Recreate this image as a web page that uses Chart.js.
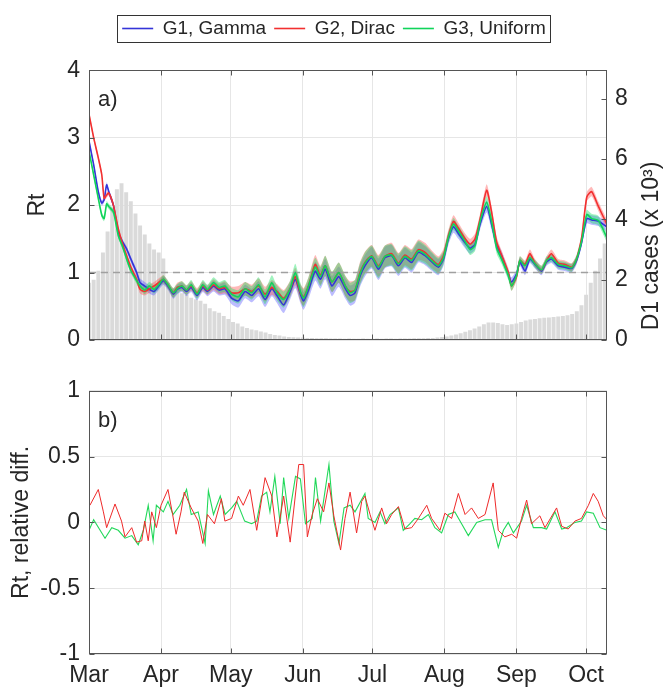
<!DOCTYPE html>
<html>
<head>
<meta charset="utf-8">
<script src="https://cdn.jsdelivr.net/npm/chart.js@4.4.1/dist/chart.umd.min.js"></script>
<style>
html,body{margin:0;padding:0;background:#fff;}
#wrap{position:relative;width:668px;height:689px;overflow:hidden;}
#c1{position:absolute;left:0;top:0;width:668px;height:368px;}
#c2{position:absolute;left:0;top:368px;width:668px;height:321px;}
</style>
</head>
<body>
<div id="wrap">
<canvas id="c1" width="668" height="368"></canvas>
<canvas id="c2" width="668" height="321"></canvas>
</div>
<script>
// ---------------- DATA ----------------
// x values are days since 1 March
const monthTickDays = [0, 31, 61, 92, 122, 153, 184, 214];
const monthLabels = ['Mar', 'Apr', 'May', 'Jun', 'Jul', 'Aug', 'Sep', 'Oct'];
const dayRange = [0, 223];
const rtTicks = [0, 1, 2, 3, 4];
const casesTicks = [0, 2, 4, 6, 8];
const diffTicks = [-1, -0.5, 0, 0.5, 1];

const seriesLabels = ['G1, Gamma', 'G2, Dirac', 'G3, Uniform'];
const casesTitle = 'D1 cases (x 10³)';

// Panel a) : Rt estimates
const rtDays = [0,2,4,5.5,6.5,7.6,8.5,10.5,12.6,14.5,16.2,18,20.5,22,24,26,28,30,32,34,36.3,38,40,42,44,46.5,49,51,53.6,56,58.5,61.4,64.3,67.2,70.1,73,75.8,78.7,80.9,83.8,86.6,88.8,91,92.4,94.5,97.4,99.6,101.7,104.6,107.5,110.4,112.4,114.5,116.7,118.8,121.7,124.6,127.4,130.3,133.2,136,138.9,141.8,144.7,147.5,150.4,152.6,154.7,156.9,159,161.9,164.1,166.2,168.4,171.2,173.3,175.5,177.6,180.5,181.9,184.1,185.5,187.7,189.8,192,194.8,197,199.1,202,204.9,207.8,209.9,212.1,214.3,216.4,219.3,222.9];
const g1Rt = [2.95,2.6,2.2,2.03,2.08,2.3,2.2,2.0,1.6,1.45,1.35,1.2,1.0,0.85,0.8,0.75,0.72,0.8,0.88,0.8,0.68,0.75,0.78,0.72,0.78,0.66,0.78,0.72,0.8,0.74,0.76,0.62,0.58,0.72,0.66,0.76,0.6,0.76,0.66,0.52,0.72,0.9,0.68,0.58,0.74,1.02,0.9,1.05,0.8,0.94,0.76,0.66,0.7,0.95,1.1,1.22,1.05,1.22,1.25,1.1,1.22,1.15,1.3,1.25,1.16,1.08,1.2,1.5,1.68,1.58,1.44,1.36,1.42,1.72,1.98,1.72,1.4,1.25,0.98,0.86,0.98,1.16,1.02,1.2,1.12,1.02,1.16,1.2,1.1,1.08,1.06,1.18,1.45,1.8,1.78,1.76,1.68];
const g2Rt = [3.35,3.0,2.7,2.45,2.1,2.15,2.18,2.0,1.65,1.42,1.25,1.08,0.9,0.75,0.72,0.76,0.8,0.85,0.9,0.82,0.7,0.78,0.8,0.74,0.8,0.7,0.8,0.74,0.82,0.76,0.78,0.7,0.7,0.76,0.72,0.8,0.68,0.78,0.72,0.62,0.76,0.94,0.7,0.64,0.8,1.12,0.96,1.1,0.86,1.0,0.8,0.72,0.74,1.0,1.15,1.25,1.1,1.24,1.28,1.14,1.26,1.2,1.34,1.3,1.2,1.12,1.25,1.54,1.76,1.66,1.5,1.42,1.5,1.8,2.22,1.9,1.45,1.26,1.0,0.8,0.94,1.18,1.12,1.28,1.14,1.04,1.18,1.28,1.14,1.12,1.08,1.2,1.52,2.12,2.2,1.98,1.72];
const g3Rt = [2.8,2.45,2.1,1.85,1.8,2.02,1.98,1.9,1.55,1.38,1.2,1.03,0.88,0.8,0.74,0.8,0.75,0.82,0.9,0.82,0.7,0.76,0.8,0.74,0.82,0.68,0.82,0.75,0.85,0.78,0.8,0.68,0.64,0.76,0.7,0.82,0.64,0.85,0.7,0.6,0.76,1.0,0.72,0.62,0.8,1.08,0.94,1.1,0.86,1.0,0.8,0.7,0.74,0.98,1.14,1.24,1.08,1.24,1.26,1.13,1.24,1.18,1.32,1.27,1.18,1.1,1.22,1.52,1.72,1.62,1.46,1.34,1.4,1.76,2.04,1.76,1.36,1.2,0.96,0.8,0.96,1.18,1.1,1.22,1.13,1.04,1.18,1.22,1.12,1.1,1.07,1.2,1.47,1.86,1.8,1.77,1.52];
// half width of the credible band around each Rt curve
const ciHalf = [0.04,0.04,0.04,0.04,0.04,0.04,0.04,0.04,0.04,0.04,0.04,0.04,0.05,0.06,0.06,0.06,0.06,0.06,0.06,0.06,0.07,0.07,0.07,0.07,0.07,0.07,0.07,0.07,0.08,0.08,0.09,0.09,0.1,0.1,0.1,0.11,0.11,0.11,0.11,0.12,0.12,0.13,0.13,0.13,0.13,0.14,0.14,0.15,0.15,0.15,0.15,0.15,0.15,0.16,0.16,0.16,0.16,0.16,0.16,0.15,0.15,0.15,0.15,0.14,0.13,0.12,0.1,0.09,0.09,0.08,0.08,0.08,0.08,0.08,0.09,0.09,0.08,0.07,0.07,0.07,0.06,0.06,0.06,0.06,0.06,0.06,0.06,0.06,0.06,0.06,0.06,0.06,0.06,0.07,0.07,0.07,0.07];
const refDays = [0, 223];
const refLevel = [1, 1];

// D1 cases (thousands), one value every 2 days starting 1 March
const casesDayStep = 2;
const casesK = [1.9,2.0,2.3,2.9,3.6,4.4,5.0,5.2,4.9,4.6,
  4.2,3.8,3.5,3.2,3.0,2.9,2.7,1.9,1.7,1.6,
  1.55,1.5,1.4,1.35,1.3,1.2,1.05,0.95,0.9,0.8,
  0.7,0.6,0.55,0.45,0.4,0.35,0.32,0.28,0.25,0.2,
  0.17,0.15,0.12,0.1,0.09,0.08,0.08,0.07,0.07,0.06,
  0.06,0.06,0.05,0.05,0.05,0.04,0.05,0.04,0.04,0.05,
  0.04,0.04,0.05,0.04,0.05,0.05,0.04,0.05,0.05,0.05,
  0.06,0.06,0.06,0.07,0.07,0.08,0.1,0.12,0.15,0.18,
  0.22,0.27,0.32,0.38,0.45,0.52,0.58,0.58,0.56,0.52,
  0.5,0.52,0.55,0.6,0.65,0.68,0.7,0.72,0.74,0.75,
  0.76,0.78,0.8,0.82,0.86,0.95,1.15,1.5,1.9,2.3,
  2.7,3.2];

// Panel b) : relative differences
const g2DiffDays = [0.4,4,6.2,7.6,11.2,14,15.5,18.4,20.5,22.7,24,25.5,27,29,31,34,36,37.5,39.6,41,44,47,49,51,54,57,58.5,61.4,64.3,66.4,69.3,72.2,75.8,78.7,80.9,83.8,86.6,90.3,92.4,94,96.1,98.3,101,103.3,105.4,108.3,110.2,112.4,115.2,117.4,118.8,121,123.1,126,128.1,130.3,133.2,136,138.9,141.8,145.4,147.5,151.1,153.2,156.1,159,161.9,164.7,167.6,170.5,174,176.2,179,182,184.1,186.2,188.4,190.5,194.1,196.3,201.3,203.5,206.3,209.2,212,215,217.1,219.2,221.4,223];
const g2Diff = [0.13,0.25,0.08,-0.04,0.14,0.01,-0.11,-0.04,-0.15,-0.14,0.01,-0.14,0.08,-0.04,0.13,0.25,0.06,-0.09,0.08,0.23,0.11,0.01,-0.16,0.06,-0.01,0.18,0.01,0.03,0.2,0.13,0.25,-0.06,0.34,0.2,-0.11,0.2,-0.15,0.44,0.44,-0.11,0.06,0.18,0.08,0.3,0.05,-0.21,0.03,0.23,-0.08,0.16,0.2,0.06,-0.06,0.11,-0.01,0.06,0.12,-0.05,-0.04,0.03,0.13,0.03,-0.06,0.07,0.03,0.22,0.06,0.11,0.03,0.06,0.3,-0.06,-0.11,-0.09,-0.12,0.03,0.17,-0.01,0.05,-0.04,0.11,-0.03,-0.05,0.01,0.03,0.13,0.22,0.16,0.05,0.02];
const g3DiffDays = [0,2,6.9,9.8,12.6,15.5,18.4,21.2,23.4,25.5,27.6,29,32,34,36.2,39.1,42,44,47,50,51.4,53.6,56.5,58.6,61.4,63.6,67,70,72.2,74.3,76.5,77.9,80,82.3,83.8,86,88.9,91,93.2,96.1,97.5,99.7,103.3,105.4,107.6,109.8,112.4,114.5,118.8,120.2,123.1,125.3,127.4,129.6,133.2,135.3,138.2,140.3,143.2,146.1,148.9,151.8,154.7,157.5,160.4,163.3,166.9,170.5,173.3,176.2,178.4,180.5,182.7,186.2,188.4,191.3,194.9,197,200.6,203.5,205.6,209.2,212,214.2,217.1,220,223];
const g3Diff = [-0.06,0.02,-0.12,-0.04,-0.06,-0.12,-0.1,-0.17,-0.06,0.13,-0.14,0.13,0.08,0.16,0.06,0.13,0.25,0.06,0.08,-0.16,0.24,0.06,0.2,0.06,0.11,0.16,0.01,-0.01,0.01,0.2,0.23,0.08,0.35,-0.01,0.34,0.03,0.35,0.33,-0.01,0.03,0.34,0.01,0.44,0.01,-0.16,0.11,0.13,0.08,0.22,0.03,0,0.08,-0.01,0.06,0.11,-0.06,-0.01,0.03,0.02,0.06,-0.04,-0.08,0.06,0.08,-0.01,-0.1,0,0.02,0.02,-0.19,-0.06,0,-0.08,0.01,0.13,-0.04,-0.04,-0.05,0.08,-0.05,-0.04,0,0.01,0.08,0.07,-0.04,-0.06];

// ---------------- STYLE ----------------
const FONT = "'Liberation Sans', Arial, Helvetica, sans-serif";
const TXT = '#262626';
const GRID = '#e6e6e6';
const FRAME = '#555555';
const COL = ['#3434d8', '#f23030', '#10d45a'];
const BAND = ['rgba(70,70,255,0.36)', 'rgba(255,70,70,0.38)', 'rgba(20,225,95,0.40)'];
Chart.defaults.font.family = FONT;
Chart.defaults.color = TXT;

const monthTicks = s => { s.ticks = monthTickDays.map(v => ({ value: v })); };
const plainNum = v => String(v);

const framePlugin = {
  id: 'frame',
  afterDraw(chart, args, o) {
    const { ctx, chartArea: a } = chart;
    ctx.save();
    ctx.lineWidth = 1;
    ctx.strokeStyle = FRAME;
    const L = Math.round(a.left) + 0.5, T = Math.round(a.top) + 0.5;
    const R = Math.round(a.right) - 0.5, B = Math.round(a.bottom) - 0.5;
    ctx.strokeRect(L, T, R - L, B - T);
    ctx.beginPath();
    const xs = chart.scales.x;
    for (const t of xs.ticks) {
      const p = Math.round(xs.getPixelForValue(t.value)) + 0.5;
      ctx.moveTo(p, B); ctx.lineTo(p, B - 5);
      ctx.moveTo(p, T); ctx.lineTo(p, T + 5);
    }
    const yl = chart.scales.y;
    for (const t of yl.ticks) {
      const p = Math.round(yl.getPixelForValue(t.value)) + 0.5;
      ctx.moveTo(L, p); ctx.lineTo(L + 5, p);
      if (!chart.scales.y1) { ctx.moveTo(R, p); ctx.lineTo(R - 5, p); }
    }
    if (chart.scales.y1) {
      const yr = chart.scales.y1;
      for (const t of yr.ticks) {
        const p = Math.round(yr.getPixelForValue(t.value)) + 0.5;
        ctx.moveTo(R, p); ctx.lineTo(R - 5, p);
      }
    }
    ctx.stroke();
    ctx.fillStyle = TXT;
    ctx.font = '22px ' + FONT;
    ctx.textBaseline = 'middle';
    ctx.textAlign = 'left';
    ctx.fillText(o.label, a.left + 9, a.top + 30);
    if (o.rightTitle) {
      // right axis title, reading bottom-to-top as in the reference
      ctx.save();
      ctx.translate(o.rightTitle.x, o.rightTitle.y);
      ctx.rotate(-Math.PI / 2);
      ctx.textAlign = 'center';
      ctx.font = '23px ' + FONT;
      ctx.fillText(o.rightTitle.text, 0, 0);
      ctx.restore();
    }
    if (o.legendBox && chart.legend && chart.legend.legendHitBoxes && chart.legend.legendHitBoxes.length) {
      const hb = chart.legend.legendHitBoxes;
      const l = Math.min(...hb.map(h => h.left)), r = Math.max(...hb.map(h => h.left + h.width));
      const t = Math.min(...hb.map(h => h.top)), b = Math.max(...hb.map(h => h.top + h.height));
      ctx.strokeStyle = '#333333';
      ctx.strokeRect(Math.round(l - 5) + 0.5, Math.round(t - 4) + 0.5, Math.round(r - l + 9), Math.round(b - t + 8));
    }
    ctx.restore();
  }
};

// ---------------- TOP PANEL ----------------
const rtSeries = [g1Rt, g2Rt, g3Rt];
const lineDs = (k, order) => ({
  type: 'line', label: seriesLabels[k],
  data: rtSeries[k].map((v, i) => ({ x: rtDays[i], y: v })),
  borderColor: COL[k], backgroundColor: COL[k], borderWidth: 1.6,
  pointRadius: 0, tension: 0.2, fill: false, order, yAxisID: 'y'
});
const bandDs = (k, sign, order, fillTarget) => ({
  type: 'line', label: '_band',
  data: rtSeries[k].map((v, i) => ({ x: rtDays[i], y: v + sign * ciHalf[i] })),
  borderWidth: 0, borderColor: 'rgba(0,0,0,0)', pointRadius: 0, tension: 0.2,
  backgroundColor: BAND[k], fill: fillTarget, order, yAxisID: 'y'
});

const topDatasets = [
  lineDs(0, 2), lineDs(1, 1), lineDs(2, 0),
  bandDs(0, -1, 12, false), bandDs(0, 1, 12, 3),
  bandDs(1, -1, 11, false), bandDs(1, 1, 11, 5),
  bandDs(2, -1, 10, false), bandDs(2, 1, 10, 7),
  {
    type: 'line', label: '_ref', data: refDays.map((d, i) => ({ x: d, y: refLevel[i] })),
    borderColor: '#a0a0a0', borderWidth: 1.5, borderDash: [7, 5], pointRadius: 0, fill: false, order: 8, yAxisID: 'y'
  },
  {
    type: 'bar', label: '_cases', data: casesK.map((v, i) => ({ x: i * casesDayStep, y: v })),
    backgroundColor: '#dadada', borderWidth: 0, barPercentage: 1, categoryPercentage: 0.85,
    order: 30, yAxisID: 'y1'
  }
];

new Chart(document.getElementById('c1'), {
  type: 'line',
  data: { datasets: topDatasets },
  options: {
    responsive: false, animation: false,
    layout: { padding: { top: 11, left: 0, right: 0, bottom: 0 } },
    plugins: {
      legend: {
        position: 'top',
        labels: {
          font: { size: 19 }, color: TXT, usePointStyle: true, pointStyle: 'line', pointStyleWidth: 31, padding: 8,
          filter: item => !item.text.startsWith('_'),
          sort: (a, b) => a.text.localeCompare(b.text)
        }
      },
      title: { display: true, text: ' ', weight: 500, padding: { top: 21, bottom: 0 }, font: { size: 1 } },
      tooltip: { enabled: false },
      frame: { label: 'a)', legendBox: true, rightTitle: { text: casesTitle, x: 652, y: 246 } }
    },
    scales: {
      x: {
        type: 'linear', min: dayRange[0], max: dayRange[1], offset: false,
        afterBuildTicks: monthTicks,
        ticks: { display: false },
        grid: { color: GRID, drawTicks: false, offset: false },
        border: { display: false },
        afterFit: s => { s.height = 28; }
      },
      y: {
        position: 'left', min: 0, max: 4,
        afterBuildTicks: s => { s.ticks = rtTicks.map(v => ({ value: v })); },
        afterFit: s => { s.width = 89; },
        ticks: { font: { size: 23 }, color: TXT, padding: 9, callback: plainNum },
        grid: { color: GRID, drawTicks: false },
        border: { display: false },
        title: { display: true, text: 'Rt', font: { size: 23 }, color: TXT, padding: { top: 24, bottom: 0 } }
      },
      y1: {
        position: 'right', min: 0, max: 8.95,
        afterBuildTicks: s => { s.ticks = casesTicks.map(v => ({ value: v })); },
        afterFit: s => { s.width = 61; },
        ticks: { font: { size: 23 }, color: TXT, padding: 8, callback: plainNum },
        grid: { drawOnChartArea: false, drawTicks: false },
        border: { display: false },
        title: { display: false }
      }
    }
  },
  plugins: [framePlugin]
});

// ---------------- BOTTOM PANEL ----------------
new Chart(document.getElementById('c2'), {
  type: 'line',
  data: {
    datasets: [
      {
        label: 'G2, Dirac', data: g2Diff.map((v, i) => ({ x: g2DiffDays[i], y: v })),
        borderColor: '#ee2a2a', borderWidth: 1, pointRadius: 0, tension: 0, fill: false, order: 0
      },
      {
        label: 'G3, Uniform', data: g3Diff.map((v, i) => ({ x: g3DiffDays[i], y: v })),
        borderColor: '#22d85a', borderWidth: 1.1, pointRadius: 0, tension: 0, fill: false, order: 1
      }
    ]
  },
  options: {
    responsive: false, animation: false,
    layout: { padding: { top: 0, left: 0, right: 61, bottom: 0 } },
    plugins: {
      legend: { display: false },
      tooltip: { enabled: false },
      frame: { label: 'b)', legendBox: false }
    },
    scales: {
      x: {
        type: 'linear', min: dayRange[0], max: dayRange[1], offset: false,
        afterBuildTicks: monthTicks,
        ticks: { font: { size: 23 }, color: TXT, padding: 8, autoSkip: false, maxRotation: 0,
          callback: (v, i) => monthLabels[i] },
        grid: { color: GRID, drawTicks: false },
        border: { display: false },
        afterFit: s => { s.height = 35; }
      },
      y: {
        min: -1, max: 1,
        afterBuildTicks: s => { s.ticks = diffTicks.map(v => ({ value: v })); },
        afterFit: s => { s.width = 89; },
        ticks: { font: { size: 23 }, color: TXT, padding: 9, callback: plainNum },
        grid: { color: GRID, drawTicks: false },
        border: { display: false },
        title: { display: true, text: 'Rt, relative diff.', font: { size: 23 }, color: TXT, padding: { top: 8, bottom: 0 } }
      }
    }
  },
  plugins: [framePlugin]
});
</script>
</body>
</html>
